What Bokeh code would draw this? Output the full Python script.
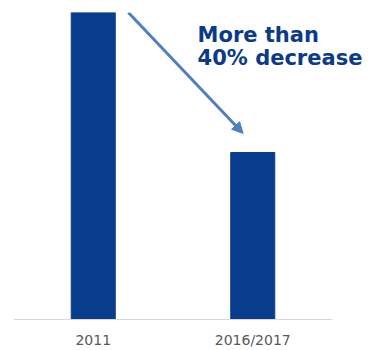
from bokeh.plotting import figure
from bokeh.models import Range1d, Arrow, NormalHead, Label, ColumnDataSource, FixedTicker
from bokeh.embed import file_html
from bokeh.resources import INLINE

categories = ["2011", "2016/2017"]
values = [100, 54.4]
annotation_lines = ["More than", "40% decrease"]

BAR = "#083c8c"
TXT = "#0b3a8a"

xpos = [i + 0.5 for i in range(len(categories))]
n = len(categories)

p = figure(width=371, height=350, x_range=Range1d(0, n * 358 / 319),
           y_range=Range1d(0, 100), output_backend="svg", toolbar_location=None,
           min_border_left=13, min_border_right=0, min_border_top=12, min_border_bottom=31)
p.outline_line_color = None
p.grid.visible = False
p.yaxis.visible = False
p.background_fill_color = "white"
p.border_fill_color = "white"

src = ColumnDataSource(dict(x=xpos, top=values))
p.vbar(x="x", top="top", width=0.276, source=src, color=BAR)

ax = p.xaxis[0]
ax.ticker = FixedTicker(ticks=xpos)
ax.major_label_overrides = {x: c for x, c in zip(xpos, categories)}
ax.bounds = (0, n)
ax.axis_line_color = "#d9d9d9"
ax.axis_line_width = 1
ax.major_tick_line_color = None
ax.major_tick_out = 0
ax.major_tick_in = 0
ax.minor_tick_line_color = None
ax.major_label_standoff = 12
ax.major_label_text_font = "DejaVu Sans"
ax.major_label_text_font_size = "14px"
ax.major_label_text_color = "#595959"

arrow = Arrow(end=NormalHead(size=11, fill_color="#4f81bd", line_color="#4f81bd"),
              x_start=0.72, y_start=values[0], x_end=1.44, y_end=60.6,
              line_color="#4f81bd", line_width=3)
p.add_layout(arrow)

for txt, yv in zip(annotation_lines, [92.6, 85.2]):
    p.add_layout(Label(x=1.154, y=yv, text=txt, text_font="DejaVu Sans", text_font_style="bold",
                       text_font_size="21px", text_color=TXT, text_baseline="alphabetic"))

open("out.html", "w").write(file_html(p, INLINE))
